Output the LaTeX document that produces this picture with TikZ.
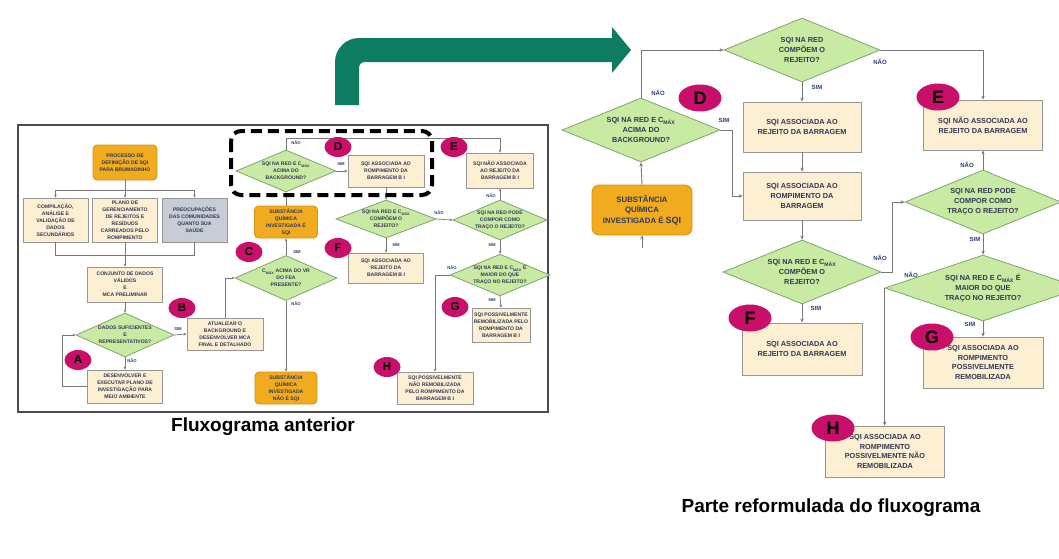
\documentclass[tikz,border=0pt]{standalone}
\usepackage{fontspec}
\setmainfont{Liberation Sans}
\usetikzlibrary{shapes.geometric,arrows.meta}
\definecolor{boxfill}{RGB}{252,239,210}
\definecolor{boxdraw}{RGB}{150,150,150}
\definecolor{diafill}{RGB}{200,234,162}
\definecolor{diadraw}{RGB}{125,165,110}
\definecolor{orfill}{RGB}{240,172,30}
\definecolor{ordraw}{RGB}{215,145,20}
\definecolor{grayfill}{RGB}{200,204,214}
\definecolor{badgec}{RGB}{200,15,105}
\definecolor{txtc}{RGB}{50,55,85}
\definecolor{linec}{RGB}{120,120,120}
\definecolor{labc}{RGB}{40,60,120}
\definecolor{bigarrow}{RGB}{14,124,96}
\begin{document}
\begin{tikzpicture}[x=1pt,y=-1pt,
  lfont/.style={font=\fontsize{5.1}{6.9}\selectfont\bfseries, text=txtc},
  rfont/.style={font=\fontsize{7.3}{9.8}\selectfont\bfseries, text=txtc},
  pbox/.style={rectangle, draw=boxdraw, fill=boxfill, line width=0.8pt, align=center, inner sep=1pt},
  obox/.style={rectangle, rounded corners=4pt, draw=ordraw, fill=orfill, line width=0.8pt, align=center, inner sep=1pt},
  gbox/.style={rectangle, draw=boxdraw, fill=grayfill, line width=0.8pt, align=center, inner sep=1pt},
  dia/.style={diamond, aspect=2.4, draw=diadraw, fill=diafill, line width=0.8pt, align=center, inner sep=0pt},
  conn/.style={draw=linec, line width=0.9pt, -{Stealth[length=4pt,width=3.5pt]}},
  lconn/.style={draw=linec, line width=0.7pt, -{Stealth[length=3pt,width=2.6pt]}},
  plain/.style={draw=linec, line width=0.7pt},
  rlab/.style={font=\fontsize{6}{6}\selectfont\bfseries, text=labc, inner sep=0pt},
  llab/.style={font=\fontsize{4.2}{4.2}\selectfont\bfseries, text=labc, inner sep=0pt},
  rbadge/.style={ellipse, fill=badgec, minimum width=43pt, minimum height=27pt, inner sep=0pt, font=\fontsize{18}{18}\selectfont\bfseries, text=black},
  lbadge/.style={ellipse, fill=badgec, minimum width=27pt, minimum height=20pt, inner sep=0pt, font=\fontsize{11.5}{11.5}\selectfont\bfseries, text=black},
  caption/.style={font=\fontsize{19}{21}\selectfont\bfseries, text=black}
]
\useasboundingbox (0,0) rectangle (1059,558);
\fill[white] (0,0) rectangle (1059,558);

% ---------------- big green arrow ----------------
\fill[bigarrow] (335,105) -- (335,62) .. controls (335,48.75) and (345.75,38) .. (359,38)
  -- (612,38) -- (612,27) -- (631,50) -- (612,73) -- (612,62) -- (365,62)
  .. controls (361.7,62) and (359,64.3) .. (359,68) -- (359,105) -- cycle;

% ---------------- left flowchart ----------------
\draw[draw=black!70, line width=1.2pt] (18,125) rectangle (548,412);

\node[obox, lfont, minimum width=64pt, minimum height=35pt] (proc) at (125,162.5) {PROCESSO DE\\DEFINIÇÃO DE SQI\\PARA BRUMADINHO};
\node[pbox, lfont, minimum width=65pt, minimum height=44pt] (comp) at (55.5,220) {COMPILAÇÃO,\\ANÁLISE E\\VALIDAÇÃO DE\\DADOS\\SECUNDÁRIOS};
\node[pbox, lfont, minimum width=65pt, minimum height=44pt] (plano) at (125,220) {PLANO DE\\GERENCIAMENTO\\DE REJEITOS E\\RESÍDUOS\\CARREADOS PELO\\ROMPIMENTO};
\node[gbox, lfont, minimum width=65pt, minimum height=44pt] (preoc) at (194.5,220) {PREOCUPAÇÕES\\DAS COMUNIDADES\\QUANTO SUA\\SAÚDE};
\node[pbox, lfont, minimum width=75pt, minimum height=35pt] (conj) at (125,284.5) {CONJUNTO DE DADOS\\VÁLIDOS\\E\\MCA PRELIMINAR};
\node[dia, lfont, minimum width=98pt, minimum height=44pt] (dsuf) at (125,335) {DADOS SUFICIENTES\\E\\REPRESENTATIVOS?};
\node[pbox, lfont, minimum width=76pt, minimum height=32pt] (atual) at (225,334) {ATUALIZAR O\\BACKGROUND E\\DESENVOLVER MCA\\FINAL E DETALHADO};
\node[pbox, lfont, minimum width=75pt, minimum height=33pt] (desenv) at (125,386.5) {DESENVOLVER E\\EXECUTAR PLANO DE\\INVESTIGAÇÃO PARA\\MEIO AMBIENTE};
\node[dia, lfont, minimum width=102pt, minimum height=45pt] (dcmax) at (286,278) {C\textsubscript{MÁX} ACIMA DO VR\\DO FEA\\PRESENTE?};
\node[obox, lfont, minimum width=63pt, minimum height=32pt] (sqi1) at (286,222) {SUBSTÂNCIA\\QUÍMICA\\INVESTIGADA É\\SQI};
\node[obox, lfont, minimum width=62pt, minimum height=32pt] (nsqi) at (286,388) {SUBSTÂNCIA\\QUÍMICA\\INVESTIGADA\\NÃO É SQI};
\node[dia, lfont, minimum width=100pt, minimum height=42pt] (dD) at (286,171) {SQI NA RED E C\textsubscript{MÁX}\\ACIMA DO\\BACKGROUND?};
\node[pbox, lfont, minimum width=76pt, minimum height=32pt] (romL) at (386,171) {SQI ASSOCIADA AO\\ROMPIMENTO DA\\BARRAGEM B I};
\node[dia, lfont, minimum width=100pt, minimum height=38pt] (dcomp) at (386,219) {SQI NA RED E C\textsubscript{MÁX}\\COMPÕEM O\\REJEITO?};
\node[pbox, lfont, minimum width=75pt, minimum height=30pt] (fL) at (386,268) {SQI ASSOCIADA AO\\REJEITO DA\\BARRAGEM B I};
\node[pbox, lfont, minimum width=67pt, minimum height=35pt] (eL) at (500,170.5) {SQI NÃO ASSOCIADA\\AO REJEITO DA\\BARRAGEM B I};
\node[dia, lfont, minimum width=94pt, minimum height=40pt] (dtraco) at (500,220) {SQI NA RED PODE\\COMPOR COMO\\TRAÇO O REJEITO?};
\node[dia, lfont, minimum width=94pt, minimum height=40pt] (dmaior) at (500,275) {SQI NA RED E C\textsubscript{MÁX} É\\MAIOR DO QUE\\TRAÇO NO REJEITO?};
\node[pbox, lfont, minimum width=58pt, minimum height=34pt] (gL) at (501,325) {SQI POSSIVELMENTE\\REMOBILIZADA PELO\\ROMPIMENTO DA\\BARRAGEM B I};
\node[pbox, lfont, minimum width=76pt, minimum height=32pt] (hL) at (435,388) {SQI POSSIVELMENTE\\NÃO REMOBILIZADA\\PELO ROMPIMENTO DA\\BARRAGEM B I};

\coordinate (lsplit) at (125,190);
\coordinate (lmerge) at (125,255);
\draw[plain] (proc.south) -- (lsplit);
\draw[lconn] (lsplit) -| (comp.north);
\draw[lconn] (lsplit) -| (preoc.north);
\draw[lconn] (lsplit) -- (plano.north);
\draw[plain] (comp.south) |- (lmerge);
\draw[plain] (preoc.south) |- (lmerge);
\draw[lconn] (plano.south) -- (conj.north);
\draw[lconn] (conj.south) -- (dsuf.north);
\draw[lconn] (dsuf.east) -- (atual.west);
\node[llab] at (178,329) {SIM};
\draw[lconn] (dsuf.south) -- (desenv.north);
\node[llab] at (132,361) {NÃO};
\draw[lconn] (desenv.west) -- ++(-25,0) |- (dsuf.west);
\draw[lconn] (atual.north) |- (dcmax.west);
\draw[lconn] (dcmax.north) -- (sqi1.south);
\node[llab] at (297,252) {SIM};
\draw[lconn] (dcmax.south) -- (nsqi.north);
\node[llab] at (296,304) {NÃO};
\draw[lconn] (sqi1.north) -- (dD.south);
\draw[lconn] (dD.north) -- (286,138) -| (eL.north);
\node[llab] at (296,143) {NÃO};
\draw[lconn] (dD.east) -- (romL.west);
\node[llab] at (341,164) {SIM};
\draw[lconn] (romL.south) -- (dcomp.north);
\draw[lconn] (dcomp.south) -- (fL.north);
\node[llab] at (396,245) {SIM};
\draw[lconn] (dcomp.east) -- (dtraco.west);
\node[llab] at (439,213) {NÃO};
\draw[lconn] (dtraco.north) -- (eL.south);
\node[llab] at (491,196) {NÃO};
\draw[lconn] (dtraco.south) -- (dmaior.north);
\node[llab] at (492,245) {SIM};
\draw[lconn] (dmaior.south) -- (gL.north);
\node[llab] at (492,300) {SIM};
\draw[lconn] (dmaior.west) -| (hL.north);
\node[llab] at (452,268) {NÃO};

\node[lbadge] (bA) at (78,360) {A};
\node[lbadge] (bB) at (182,308) {B};
\node[lbadge] (bC) at (249,252) {C};
\node[lbadge] (bD) at (338,147) {D};
\node[lbadge] (bE) at (454,147) {E};
\node[lbadge] (bF) at (338,248) {F};
\node[lbadge] (bG) at (455,307) {G};
\node[lbadge] (bH) at (387,367) {H};

\draw[black, line width=4pt, dash pattern=on 11pt off 6pt, rounded corners=10pt] (231,131) rectangle (432,195);

\node[caption] (capL) at (263,427) {Fluxograma anterior};

% ---------------- right flowchart ----------------
\node[dia, rfont, minimum width=156pt, minimum height=64pt] (rtop) at (802,50) {SQI NA RED\\COMPÕEM O\\REJEITO?};
\node[dia, rfont, minimum width=158pt, minimum height=64pt] (rD) at (641,130) {SQI NA RED E C\textsubscript{MÁX}\\ACIMA DO\\BACKGROUND?};
\node[pbox, rfont, minimum width=118pt, minimum height=50pt] (rRej) at (802,127) {SQI ASSOCIADA AO\\REJEITO DA BARRAGEM};
\node[pbox, rfont, minimum width=119pt, minimum height=50pt] (rE) at (983,125) {SQI NÃO ASSOCIADA AO\\REJEITO DA BARRAGEM};
\node[obox, font=\fontsize{7.8}{10.5}\selectfont\bfseries, text=txtc, rounded corners=7pt, minimum width=100pt, minimum height=50pt] (rSQI) at (642,210) {SUBSTÂNCIA\\QUÍMICA\\INVESTIGADA É {\fontsize{9}{10.5}\selectfont SQI}};
\node[pbox, rfont, minimum width=118pt, minimum height=48pt] (rRom) at (802,196) {SQI ASSOCIADA AO\\ROMPIMENTO DA\\BARRAGEM};
\node[dia, rfont, minimum width=158pt, minimum height=64pt] (rComp) at (802,272) {SQI NA RED E C\textsubscript{MÁX}\\COMPÕEM O\\REJEITO?};
\node[dia, rfont, minimum width=156pt, minimum height=64pt] (rTraco) at (983,202) {SQI NA RED PODE\\COMPOR COMO\\TRAÇO O REJEITO?};
\node[dia, rfont, minimum width=196pt, minimum height=66pt] (rMaior) at (983,288) {SQI NA RED E C\textsubscript{MÁX} É\\MAIOR DO QUE\\TRAÇO NO REJEITO?};
\node[pbox, rfont, minimum width=120pt, minimum height=52pt] (rF) at (802,349) {SQI ASSOCIADA AO\\REJEITO DA BARRAGEM};
\node[pbox, rfont, minimum width=120pt, minimum height=51pt] (rG) at (983,362.5) {SQI ASSOCIADA AO\\ROMPIMENTO\\POSSIVELMENTE\\REMOBILIZADA};
\node[pbox, rfont, minimum width=119pt, minimum height=51pt] (rH) at (885,451.5) {SQI ASSOCIADA AO\\ROMPIMENTO\\POSSIVELMENTE NÃO\\REMOBILIZADA};

\coordinate (rstub) at (642,248);
\draw[conn] (rD.north) |- (rtop.west);
\node[rlab] at (658,93) {NÃO};
\draw[conn] (rD.east) -- ++(12,0) |- (rRom.west);
\node[rlab] at (724,120) {SIM};
\draw[conn] (rSQI.north) -- (rD.south);
\draw[conn] (rstub) -- (rSQI.south);
\draw[conn] (rtop.south) -- (rRej.north);
\node[rlab] at (817,87) {SIM};
\draw[conn] (rtop.east) -| (rE.north);
\node[rlab] at (880,62) {NÃO};
\draw[conn] (rRej.south) -- (rRom.north);
\draw[conn] (rRom.south) -- (rComp.north);
\draw[conn] (rComp.south) -- (rF.north);
\node[rlab] at (816,308) {SIM};
\draw[conn] (rComp.east) -- ++(11,0) |- (rTraco.west);
\node[rlab] at (880,258) {NÃO};
\draw[conn] (rTraco.north) -- (rE.south);
\node[rlab] at (967,165) {NÃO};
\draw[conn] (rTraco.south) -- (rMaior.north);
\node[rlab] at (975,239) {SIM};
\draw[conn] (rMaior.south) -- (rG.north);
\node[rlab] at (970,324) {SIM};
\draw[conn] (rMaior.west) -- (rMaior.west |- rH.north);
\node[rlab] at (911,275) {NÃO};

\node[rbadge] (rbD) at (700,98) {D};
\node[rbadge] (rbE) at (938,97) {E};
\node[rbadge] (rbF) at (750,318) {F};
\node[rbadge] (rbG) at (932,337) {G};
\node[rbadge] (rbH) at (833,428) {H};

\node[caption] (capR) at (831,508) {Parte reformulada do fluxograma};
\end{tikzpicture}
\end{document}
